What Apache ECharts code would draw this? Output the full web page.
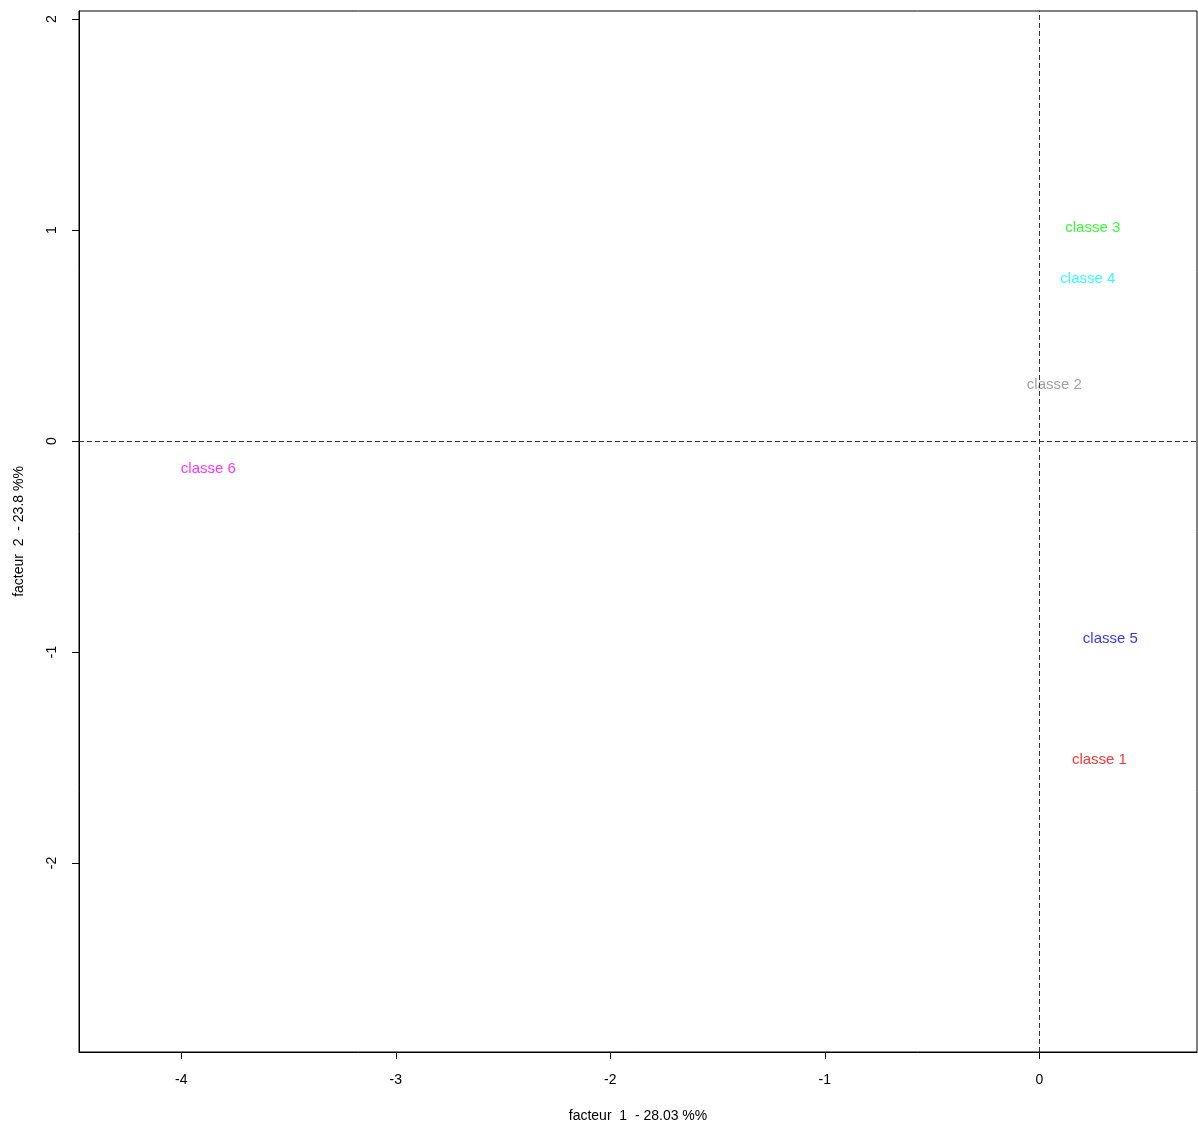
<!DOCTYPE html>
<html><head><meta charset="utf-8">
<script src="https://cdn.jsdelivr.net/npm/echarts@6/dist/echarts.min.js"></script>
<style>html,body{margin:0;padding:0;background:#fff}#c{width:1198px;height:1126px}</style>
</head><body><div id="c"></div>
<script>
var classes = ['classe 1','classe 2','classe 3','classe 4','classe 5','classe 6'];
var factor1 = [0.280, 0.070, 0.249, 0.226, 0.331, -3.874];
var factor2 = [-1.509, 0.264, 1.009, 0.767, -0.936, -0.133];
var colors = ['#FF0000','#8C8C8C','#00FF00','#00FFFF','#0000FF','#FF00FF'];
var xTicks = [-4,-3,-2,-1,0];
var yTicks = [-2,-1,0,1,2];
var xName = 'facteur  1  - 28.03 %%';
var yName = 'facteur  2  - 23.8 %%';

var data = classes.map(function(n,i){
  return {name:n, value:[factor1[i], factor2[i]], label:{color:colors[i]}};
});
var chart = echarts.init(document.getElementById('c'));
var font = 'Liberation Sans, Arial, sans-serif';
chart.setOption({
  animation:false,
  backgroundColor:'#fff',
  grid:{left:79,top:11,right:1,bottom:74,containLabel:false,outerBoundsMode:'none',show:true,borderColor:'#000',borderWidth:1,backgroundColor:'transparent'},
  xAxis:{type:'value',min:-4.477,max:0.735,
    name:xName,nameLocation:'middle',nameGap:57,
    nameTextStyle:{fontFamily:font,fontSize:14,color:'#000'},
    axisLine:{show:true,onZero:false,lineStyle:{color:'#000'}},
    axisTick:{show:true,length:7,customValues:xTicks,lineStyle:{color:'#000'}},
    axisLabel:{customValues:xTicks,margin:21,fontFamily:font,fontSize:14,color:'#000'},
    splitLine:{show:false}},
  yAxis:{type:'value',min:-2.896,max:2.038,
    name:yName,nameLocation:'middle',nameGap:53,nameRotate:90,
    nameTextStyle:{fontFamily:font,fontSize:14,color:'#000'},
    axisLine:{show:true,onZero:false,lineStyle:{color:'#000'}},
    axisTick:{show:true,length:7,customValues:yTicks,lineStyle:{color:'#000'}},
    axisLabel:{customValues:yTicks,rotate:90,margin:20,fontFamily:font,fontSize:14,color:'#000'},
    splitLine:{show:false}},
  series:[{
    type:'scatter',data:data,symbolSize:1,itemStyle:{color:'rgba(0,0,0,0)'},
    label:{show:true,position:'inside',formatter:'{b}',fontFamily:font,fontSize:15},
    markLine:{silent:true,symbol:'none',label:{show:false},
      lineStyle:{type:[5,3],color:'#333',width:1},
      data:[{xAxis:0},{yAxis:0}]}
  }]
});
</script></body></html>
